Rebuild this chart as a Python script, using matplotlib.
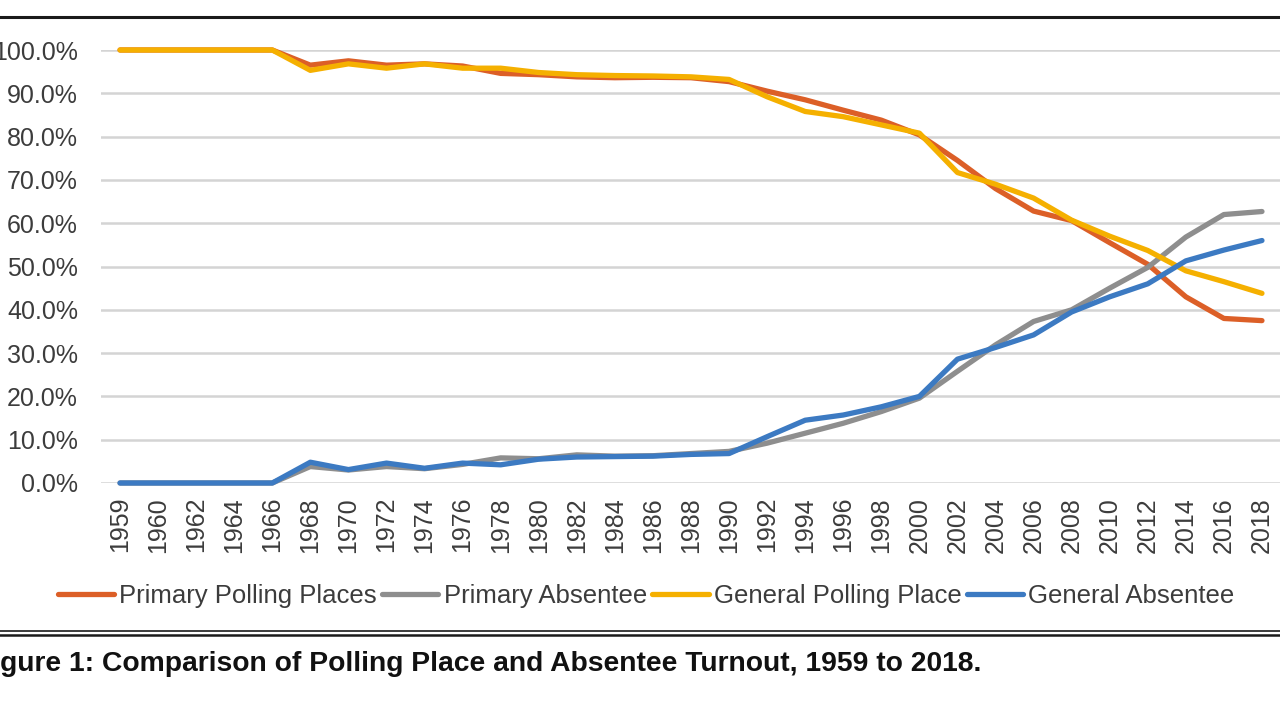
import numpy as np
import matplotlib.pyplot as plt
from matplotlib.lines import Line2D

# election categories (first two are odd years, then every even year)
years = ['1959', '1960'] + [str(y) for y in range(1962, 2019, 2)]

primary_polling = [100, 100, 100, 100, 100, 96.5, 97.5, 96.5, 96.8, 96.3,
                   94.6, 94.3, 93.8, 93.6, 93.7, 93.6, 92.7, 90.5, 88.5, 86.1,
                   83.8, 80.4, 74.5, 68.0, 62.8, 60.6, 55.5, 50.5, 43.0, 38.0, 37.5]
primary_absentee = [0, 0, 0, 0, 0, 3.8, 3.0, 3.8, 3.3, 4.3,
                    5.8, 5.6, 6.5, 6.2, 6.3, 6.8, 7.3, 9.2, 11.5, 13.8,
                    16.5, 19.6, 25.8, 31.9, 37.3, 40.0, 45.0, 49.8, 56.8, 62.0, 62.7]
general_polling = [100, 100, 100, 100, 100, 95.3, 96.8, 95.8, 96.8, 95.8,
                   95.8, 94.8, 94.3, 94.1, 94.0, 93.8, 93.2, 89.2, 85.8, 84.6,
                   82.7, 80.8, 71.7, 69.0, 65.8, 60.7, 57.0, 53.7, 49.0, 46.5, 43.8]
general_absentee = [0, 0, 0, 0, 0, 4.8, 3.1, 4.6, 3.4, 4.6,
                    4.2, 5.5, 6.0, 6.1, 6.2, 6.6, 6.8, 10.7, 14.5, 15.7,
                    17.6, 20.0, 28.6, 31.3, 34.2, 39.5, 43.0, 46.0, 51.3, 53.8, 56.0]

series = [
  ('Primary Polling Places', primary_polling, '#DC5F27'),
  ('Primary Absentee', primary_absentee, '#8E8E8E'),
  ('General Polling Place', general_polling, '#F5B000'),
  ('General Absentee', general_absentee, '#3C7AC2'),
]

plt.rc('font', family=['Liberation Sans', 'DejaVu Sans'])
txt_color = '#3c3c3c'
W, H = 1280, 720

fig = plt.figure(figsize=(12.8, 7.2), dpi=100)
ax = fig.add_axes([101/W, 1 - 483/H, (1281 - 101)/W, (483 - 50)/H])

x = np.arange(len(years))
for name, vals, col in series:
  ax.plot(x, vals, color=col, lw=3.8, label=name, clip_on=False,
          solid_joinstyle='round', solid_capstyle='round')

ax.set_xlim(-0.5, len(years) - 0.5)
ax.set_ylim(0, 100)
ax.set_yticks(np.arange(0, 101, 10))
ax.set_yticklabels(['{:.1f}%'.format(v) for v in np.arange(0, 101, 10)])
ax.set_xticks(x)
ax.set_xticklabels(years, rotation=90)
ax.tick_params(axis='both', length=0, labelsize=18, labelcolor=txt_color)
ax.tick_params(axis='x', pad=10)
ax.tick_params(axis='y', pad=16.5)
ax.yaxis.grid(True, color='#d4d4d4', lw=1.8)
ax.set_axisbelow(True)
for s in ax.spines.values():
  s.set_visible(False)

handles = [Line2D([], [], color=c, lw=3.8, solid_capstyle='round') for _, _, c in series]
fig.legend(handles, [n for n, _, _ in series], loc='center',
           bbox_to_anchor=(646/W, 1 - 596/H), ncol=4, frameon=False,
           fontsize=18.5, handlelength=2.2, handletextpad=0.2, columnspacing=0.2,
           labelcolor=txt_color)

# frame rules above and below the figure body
fig.add_artist(Line2D([0, 1], [1 - 17/H, 1 - 17/H], color='#1a1a1a', lw=2.2))
fig.add_artist(Line2D([0, 1], [1 - 631/H, 1 - 631/H], color='#1a1a1a', lw=1.2))
fig.add_artist(Line2D([0, 1], [1 - 635/H, 1 - 635/H], color='#1a1a1a', lw=1.8))

# caption, left part runs off the edge like the source crop
fig.text(-25/W, 1 - 664/H, 'Figure 1: Comparison of Polling Place and Absentee Turnout, 1959 to 2018.',
         fontsize=20.3, fontweight='bold', color='#111111', ha='left', va='center')

plt.savefig('out.png', dpi=100)
